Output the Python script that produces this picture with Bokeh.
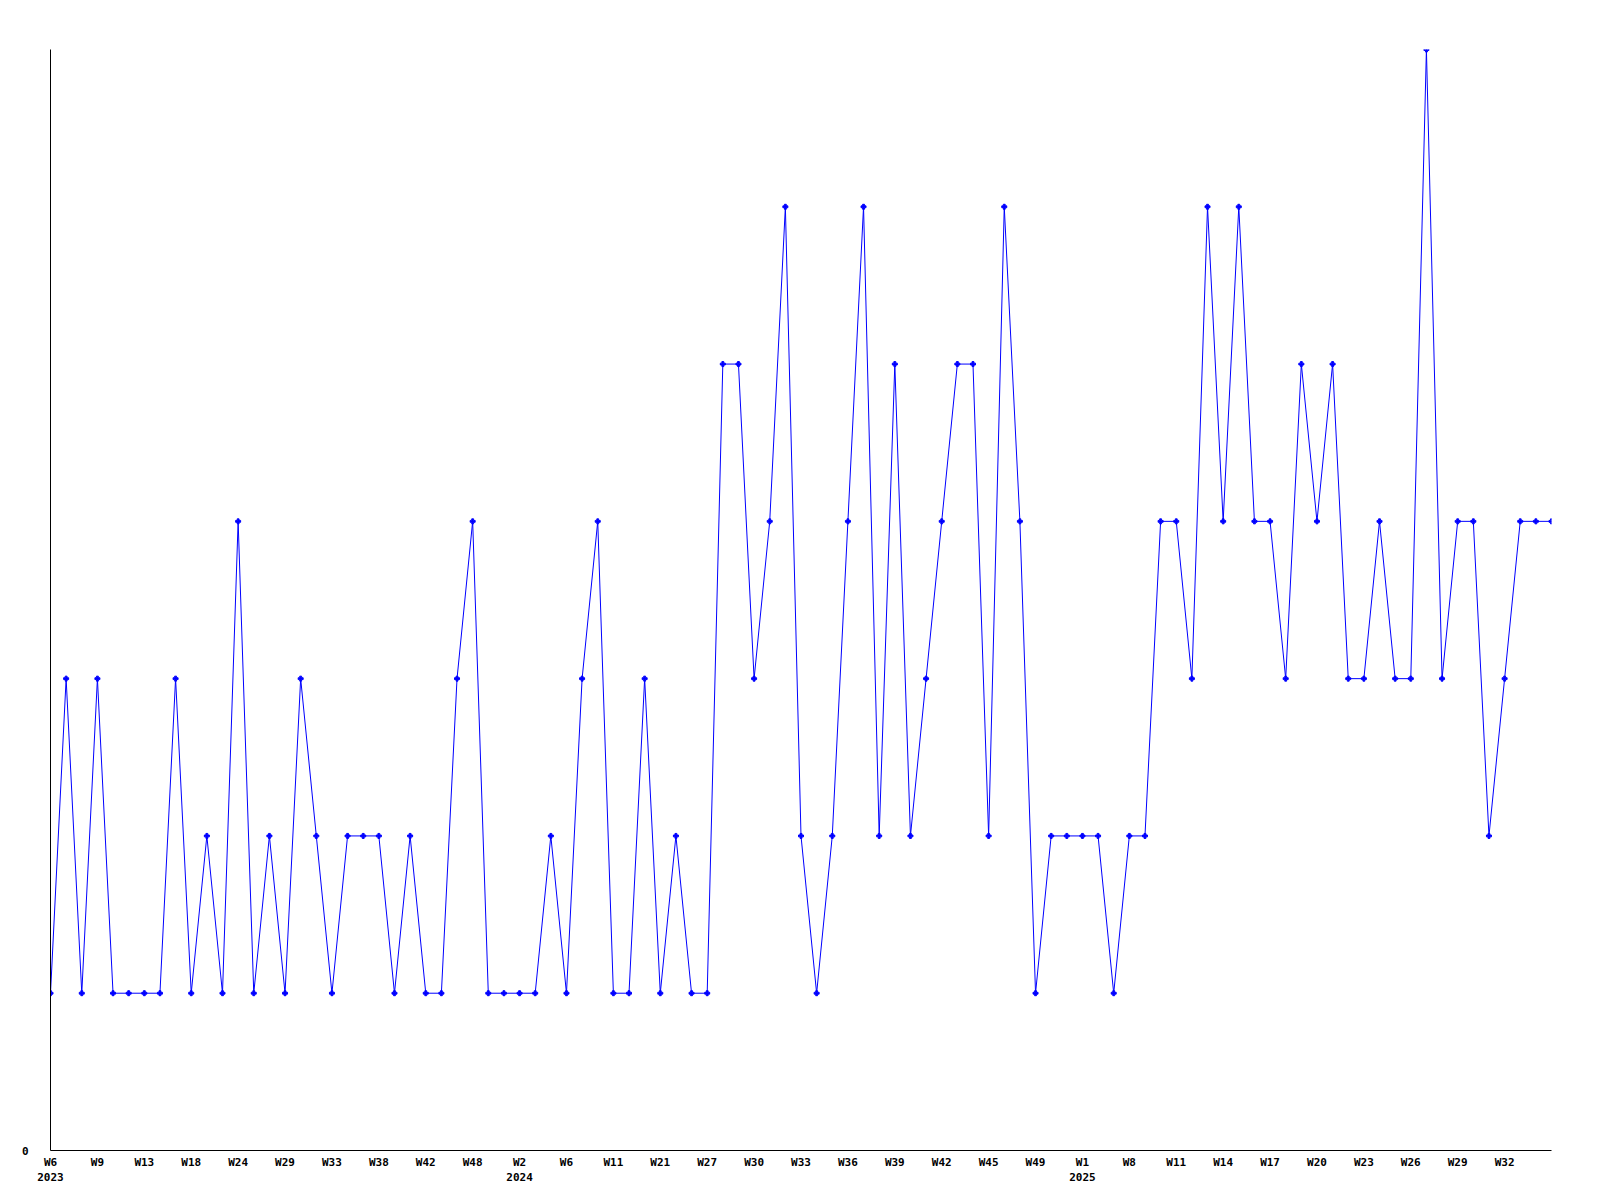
from bokeh.plotting import figure
from bokeh.models import Range1d, FixedTicker
from bokeh.embed import file_html
from bokeh.resources import INLINE

# weekly counts, one per plotted week (categorical positions 0..96)
values = [1, 3, 1, 3, 1, 1, 1, 1, 3, 1,
          2, 1, 4, 1, 2, 1, 3, 2, 1, 2,
          2, 2, 1, 2, 1, 1, 3, 4, 1, 1,
          1, 1, 2, 1, 3, 4, 1, 1, 3, 1,
          2, 1, 1, 5, 5, 3, 4, 6, 2, 1,
          2, 4, 6, 2, 5, 2, 3, 4, 5, 5,
          2, 6, 4, 1, 2, 2, 2, 2, 1, 2,
          2, 4, 4, 3, 6, 4, 6, 4, 4, 3,
          5, 4, 5, 3, 3, 4, 3, 3, 7, 3,
          4, 4, 2, 3, 4, 4, 4]
positions = list(range(len(values)))

tick_labels = ["W6\n2023", "W9", "W13", "W18", "W24", "W29", "W33", "W38", "W42", "W48",
               "W2\n2024", "W6", "W11", "W21", "W27", "W30", "W33", "W36", "W39", "W42",
               "W45", "W49", "W1\n2025", "W8", "W11", "W14", "W17", "W20", "W23", "W26",
               "W29", "W32"]
tick_positions = [i * 3 for i in range(len(tick_labels))]

p = figure(width=1592, height=1192, output_backend="svg", toolbar_location=None,
           x_range=Range1d(0, len(values) - 1), y_range=Range1d(0, 7),
           min_border_left=50, min_border_right=41, min_border_top=49, min_border_bottom=42)

p.line(positions, values, line_color="#0000ff", line_width=1)
p.scatter(positions, values, marker="plus", size=5, color="#0000ff")

p.grid.visible = False
p.outline_line_color = None
p.background_fill_color = "white"
p.border_fill_color = "white"

font = "DejaVu Sans Mono"
xa = p.xaxis[0]
xa.ticker = FixedTicker(ticks=tick_positions)
xa.major_label_overrides = {t: l for t, l in zip(tick_positions, tick_labels)}
xa.major_tick_line_color = None
xa.minor_tick_line_color = None
xa.major_tick_out = 0
xa.major_tick_in = 0
xa.major_label_standoff = 5
xa.major_label_text_font = font
xa.major_label_text_font_style = "bold"
xa.major_label_text_font_size = "11px"
xa.major_label_text_color = "black"
xa.axis_line_color = "black"

ya = p.yaxis[0]
ya.ticker = FixedTicker(ticks=[0])
ya.major_tick_line_color = None
ya.minor_tick_line_color = None
ya.major_tick_out = 0
ya.major_tick_in = 0
ya.major_label_standoff = 22
ya.major_label_text_font = font
ya.major_label_text_font_style = "bold"
ya.major_label_text_font_size = "11px"
ya.major_label_text_color = "black"
ya.axis_line_color = "black"

open("out.html", "w").write(file_html(p, INLINE))
